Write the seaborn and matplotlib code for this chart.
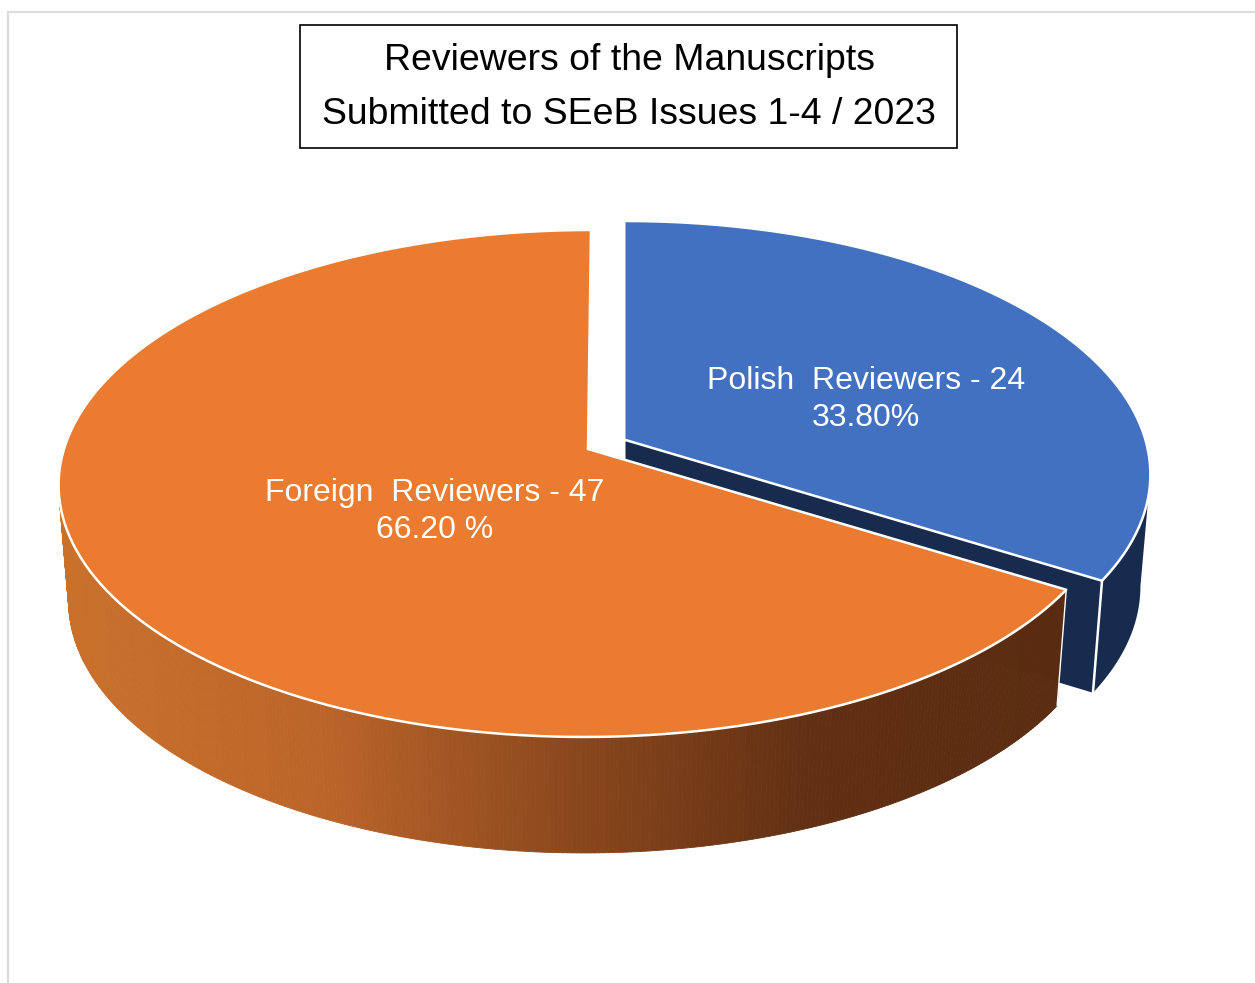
import numpy as np
import seaborn as sns
import matplotlib
matplotlib.use("Agg")
import matplotlib.pyplot as plt
from matplotlib.patches import Rectangle

sns.set_theme(style="white")
plt.rcParams['font.family'] = ['Liberation Sans', 'DejaVu Sans']

# ---- data ----
categories = ["Polish  Reviewers", "Foreign  Reviewers"]
counts = [24, 47]
percent_labels = ["33.80%", "66.20 %"]
title_lines = ["Reviewers of the Manuscripts", "Submitted to SEeB Issues 1-4 / 2023"]

# ---- colours ----
top_colors = ["#4371C1", "#EA7B30"]
blue_side = "#172B4F"
orange_side = sns.blend_palette(["#C9702B", "#BC652A", "#8B481D", "#612F13", "#5A2C11"], 256)

# ---- projection of the pie disc ----
B, K = 248.8, 0.136
SHRINK = 0.981
ORANGE = dict(c=(588.0, 449.0), a=524.0, depth=116.0, shear=-0.0137)
BLUE = dict(c=(625.5, 440.0), a=520.0, depth=112.0, shear=0.0)


def proj(theta, s, low=False):
    """theta: radians clockwise from 12 o'clock, on the perspective disc."""
    theta = np.asarray(theta, dtype=float)
    u = np.cos(theta)
    w = 1.0 / (1.0 + K * u)
    sx = SHRINK if low else 1.0
    dy = B * u * w
    return (s["c"][0] + sx * s["a"] * np.sin(theta) * w + s["shear"] * dy * -1.0,
            s["c"][1] - dy + (s["depth"] if low else 0.0))


fracs = np.array(counts) / sum(counts)
split = 2 * np.pi * fracs[0]

fig = plt.figure(figsize=(12.55, 9.83), dpi=100, facecolor="white")
ax = fig.add_axes([0, 0, 1, 1])
ax.set_xlim(0, 1255)
ax.set_ylim(983, 0)
ax.axis("off")

# page border
ax.plot([7.5, 7.5, 1255], [983, 11.8, 11.8], color="#DDDDDD", lw=1.6, solid_joinstyle="miter")

EDGE = dict(color="white", lw=1.8, solid_capstyle="round")

# ---- blue slice ----
cb = BLUE["c"]
sil = np.arccos(-K)
t = np.linspace(sil, split, 80)
xt, yt = proj(t, BLUE)
xb, yb = proj(t, BLUE, low=True)
ax.fill(np.r_[xt, xb[::-1]], np.r_[yt, yb[::-1]], color=blue_side, lw=0, zorder=2)
# cut face
xe, ye = proj(split, BLUE)
xl, yl = proj(split, BLUE, low=True)
ax.fill([cb[0], xe, xl, cb[0]], [cb[1], ye, yl, cb[1] + BLUE["depth"]],
        color=blue_side, lw=0, zorder=2)
ax.plot([xe, xl], [ye, yl], zorder=3, **EDGE)
t = np.linspace(0, split, 160)
xt, yt = proj(t, BLUE)
ax.fill(np.r_[cb[0], xt], np.r_[cb[1], yt], color=top_colors[0], lw=0, zorder=4)
ax.plot(np.r_[xt, cb[0]], np.r_[yt, cb[1]], zorder=5, **EDGE)

# ---- orange slice ----
co = ORANGE["c"]
t = np.linspace(split, 2 * np.pi - sil, 320)
xt, yt = proj(t, ORANGE)
xb, yb = proj(t, ORANGE, low=True)
xmin, xmax = 68.0, 1060.0
for i in range(len(t) - 1):
    f = np.clip((0.5 * (xt[i] + xt[i + 1]) - xmin) / (xmax - xmin), 0, 1)
    col = orange_side[int(f * 255)]
    ax.fill([xt[i], xt[i + 1], xb[i + 1], xb[i]], [yt[i], yt[i + 1], yb[i + 1], yb[i]],
            facecolor=col, edgecolor=col, lw=0.6, zorder=6)
xe, ye = proj(split, ORANGE)
xl, yl = proj(split, ORANGE, low=True)
ax.plot([xe, xl], [ye, yl], color="white", lw=1.0, zorder=7)
t = np.linspace(split, 2 * np.pi, 320)
xt, yt = proj(t, ORANGE)
ax.fill(np.r_[co[0], xt], np.r_[co[1], yt], color=top_colors[1], lw=0, zorder=8)
ax.plot(np.r_[co[0], xt, co[0]], np.r_[co[1], yt, co[1]], zorder=9, **EDGE)

# ---- labels ----
LABEL_FS = 23.05
label_pos = [(866, 381, 418), (435, 493, 530)]
for cat, n, pct, (lx, ly1, ly2) in zip(categories, counts, percent_labels, label_pos):
    ax.text(lx, ly1, f"{cat} - {n}", color="white", fontsize=LABEL_FS, ha="center", va="center", zorder=12)
    ax.text(lx, ly2, pct, color="white", fontsize=LABEL_FS, ha="center", va="center", zorder=12)

# ---- title box ----
ax.add_patch(Rectangle((300, 25), 657, 123, facecolor="white", edgecolor="black", lw=1.2, zorder=13))
for line, y in zip(title_lines, (60.5, 114.5)):
    ax.text(629, y, line, color="black", fontsize=26.95, ha="center", va="center", zorder=14)

fig.savefig("out.png", dpi=100, facecolor="white")
